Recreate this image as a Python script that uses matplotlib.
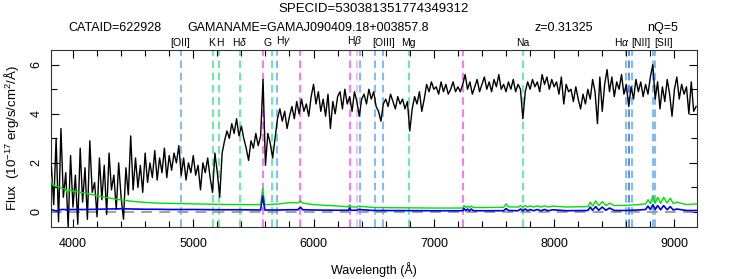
import numpy as np
import matplotlib
matplotlib.use("Agg")
import matplotlib.pyplot as plt
from matplotlib.ticker import MultipleLocator

plt.rcParams['font.family'] = ['Liberation Sans', 'DejaVu Sans']
plt.rcParams['mathtext.fontset'] = 'custom'
plt.rcParams['mathtext.rm'] = 'Liberation Sans'
plt.rcParams['mathtext.it'] = 'Liberation Sans:italic'

wave = 3820 + 20 * np.arange(269)
flux = [
    1.9, 0.3, 3.0, -0.4, 3.4, 0.6, 1.6, -0.6, 2.3, 0.2,   # 3820
    1.5, -0.5, 2.6, 0.4, 1.8, -0.3, 2.9, 0.8, 1.2, -0.2,  # 4020
    2.2, 0.5, 1.9, -0.1, 2.4, 0.9, 1.5, 0.1, 2.0, 0.6,    # 4220
    -0.3, 1.8, 0.7, 3.1, 0.9, 2.2, 1.0, 1.9, 0.8, 2.4,    # 4420
    1.2, 2.0, 1.4, 2.5, 1.3, 2.2, 1.6, 2.6, 1.4, 2.3,     # 4620
    1.7, 2.4, 2.0, 2.7, 1.5, 2.2, 1.3, 2.0, 1.6, 2.3,     # 4820
    1.5, 1.9, 0.9, 2.0, 1.6, 2.2, 1.4, 0.8, 2.4, 1.6,     # 5020
    0.6, 2.4, 2.9, 3.3, 3.0, 3.6, 3.2, 3.8, 3.1, 3.5,     # 5220
    3.0, 2.6, 2.1, 2.9, 2.6, 3.2, 2.7, 3.1, 5.4, 1.9,     # 5420
    3.2, 2.8, 2.2, 3.0, 3.8, 4.2, 3.7, 4.1, 3.4, 3.9,     # 5620
    4.3, 3.8, 4.5, 4.0, 4.6, 4.1, 4.4, 3.9, 4.7, 5.2,     # 5820
    4.4, 4.9, 4.1, 4.6, 3.9, 4.8, 3.4, 4.5, 4.0, 4.7,     # 6020
    4.9, 4.2, 5.0, 4.4, 4.7, 4.1, 4.9, 4.5, 3.9, 4.6,     # 6220
    4.8, 4.4, 5.0, 4.6, 4.9, 4.3, 4.1, 3.7, 4.4, 4.6,     # 6420
    4.3, 4.8, 4.5, 4.2, 4.7, 4.4, 4.6, 4.2, 4.5, 3.3,     # 6620
    4.2, 4.7, 4.4, 4.9, 4.1, 4.6, 5.2, 4.9, 5.3, 5.0,     # 6820
    5.1, 4.8, 5.3, 4.9, 5.2, 4.8, 5.0, 5.3, 4.9, 5.1,     # 7020
    4.9, 5.2, 5.6, 5.0, 5.3, 4.8, 5.1, 5.4, 4.9, 5.2,     # 7220
    5.5, 5.0, 5.3, 4.9, 5.4, 5.1, 5.6, 5.0, 5.2, 4.9,     # 7420
    5.3, 5.0, 5.4, 4.9, 5.2, 5.0, 3.8, 4.9, 5.3, 5.0,     # 7620
    5.4, 5.1, 5.3, 4.9, 5.6, 5.2, 5.5, 5.0, 5.4, 5.1,     # 7820
    5.3, 4.8, 5.5, 4.4, 5.2, 4.9, 5.0, 4.5, 5.1, 4.6,     # 8020
    4.2, 4.8, 4.4, 5.0, 4.6, 5.4, 4.9, 3.6, 5.5, 4.1,     # 8220
    5.2, 5.8, 4.9, 5.5, 4.7, 5.3, 5.0, 5.6, 4.8, 5.2,     # 8420
    4.3, 5.1, 4.6, 5.4, 4.9, 5.3, 4.7, 5.2, 4.8, 5.5,     # 8620
    6.0, 4.6, 5.3, 4.2, 5.1, 4.5, 5.4, 4.8, 3.9, 5.0,     # 8820
    5.5, 4.6, 5.2, 4.8, 5.1, 4.0, 5.3, 4.1, 4.3,          # 9020
]

# error (green) and sky (blue) curves
aux_wave = [3815, 3830, 3860, 3900, 3940, 3955, 3970, 4000, 4100, 4200,
            4300, 4400, 4500, 4600, 4700, 4800, 4900, 5000, 5200, 5400,
            5560, 5577, 5595, 5700, 5800, 5870, 5890, 5910, 6000, 6200,
            6290, 6300, 6310, 6360, 6370, 6500, 7000, 7240, 7250, 7265,
            7280, 7295, 7310, 7330, 7400, 7580, 7600, 7620, 7700, 7720,
            7740, 7760, 7780, 7800, 7830, 7860, 7890, 7920, 7950, 7990,
            8100, 8280, 8300, 8320, 8345, 8370, 8400, 8430, 8460, 8500,
            8600, 8700, 8760, 8780, 8800, 8821, 8840, 8860, 8885, 8910,
            8940, 8965, 8990, 9020, 9100, 9185]
err = [1.43, 1.1, 1.05, 0.98, 0.92, 0.75, 0.9, 0.85, 0.77, 0.66,
       0.57, 0.49, 0.43, 0.39, 0.36, 0.35, 0.34, 0.33, 0.31, 0.3,
       0.3, 0.95, 0.3, 0.32, 0.38, 0.37, 0.45, 0.36, 0.3, 0.24,
       0.21, 0.3, 0.21, 0.2, 0.24, 0.18, 0.16, 0.16, 0.26, 0.18,
       0.24, 0.18, 0.24, 0.18, 0.18, 0.19, 0.33, 0.21, 0.2, 0.26,
       0.2, 0.26, 0.2, 0.25, 0.2, 0.25, 0.2, 0.25, 0.2, 0.24,
       0.2, 0.22, 0.4, 0.25, 0.45, 0.26, 0.42, 0.26, 0.36, 0.26,
       0.27, 0.3, 0.33, 0.5, 0.34, 0.66, 0.35, 0.6, 0.35, 0.6,
       0.36, 0.56, 0.34, 0.4, 0.3, 0.33]
sky = [0.1, 0.08, 0.04, 0.1, 0.1, 0.05, 0.1, 0.1, 0.1, 0.11,
       0.12, 0.13, 0.12, 0.11, 0.11, 0.1, 0.1, 0.1, 0.09, 0.09,
       0.08, 0.65, 0.08, 0.08, 0.09, 0.09, 0.2, 0.09, 0.08, 0.07,
       0.07, 0.17, 0.07, 0.07, 0.1, 0.06, 0.05, 0.05, 0.14, 0.05,
       0.12, 0.04, 0.12, 0.05, 0.05, 0.05, 0.14, 0.06, 0.05, 0.12,
       0.05, 0.12, 0.05, 0.1, 0.05, 0.1, 0.05, 0.1, 0.05, 0.09,
       0.05, 0.06, 0.2, 0.07, 0.22, 0.07, 0.2, 0.07, 0.16, 0.06,
       0.06, 0.08, 0.1, 0.24, 0.1, 0.3, 0.1, 0.26, 0.09, 0.26,
       0.09, 0.22, 0.08, 0.12, 0.06, 0.06]

# line markers (observed wavelengths, z=0.31325)
em_waves = [4895, 5700, 6384, 6512, 6575, 8599, 8645, 8820, 8839]
ha_wave = 8619
abs_waves = [5166, 5212, 5387, 5653, 6796, 7739]
sky_waves = [5577, 5890, 6300, 7246]
sky_faint = [6364]

line_labels = ['[OII]', 'K', 'H', 'H$\\delta$', 'G', 'H$\\gamma$', 'H$\\beta$',
               '[OIII]', 'Mg', 'Na', 'H$\\alpha$', '[NII]', '[SII]']
label_pos = [4889, 5150, 5225, 5388, 5621, 5754, 6345,
             6585, 6785, 7741, 8564, 8721, 8913]

fig = plt.figure(figsize=(7.48, 2.79), dpi=100)
ax = fig.add_axes([0.0678, 0.1875, 0.8636, 0.6333])

dash = (0, (5, 3))
for w in em_waves:
    ax.axvline(w, color='#5aaaf5', lw=1.1, ls=dash, zorder=1)
ax.axvline(ha_wave, color='#1a70ff', lw=1.1, ls=dash, zorder=1)
for w in abs_waves:
    ax.axvline(w, color='#3fe58c', lw=1.1, ls=dash, zorder=1)
for w in sky_waves:
    ax.axvline(w, color='#ff4dff', lw=1.1, ls=dash, zorder=1)
for w in sky_faint:
    ax.axvline(w, color='#ffa0f0', lw=1.1, ls=dash, zorder=1)

ax.axhline(0, color='#999999', lw=1.3, ls=(0, (6, 4)), zorder=2)
ax.plot(wave, flux, color='black', lw=1.0, zorder=3)
ax.plot(aux_wave, err, color='#00e000', lw=1.0, zorder=4)
ax.plot(aux_wave, sky, color='#0000ee', lw=1.2, zorder=5)

for lab, pos in zip(line_labels, label_pos):
    ax.text(pos, 1.01, lab, transform=ax.get_xaxis_transform(), ha='center',
            va='bottom', fontsize=7.5)

ax.set_xlim(3815, 9185)
ax.set_ylim(-0.6, 6.6)
ax.xaxis.set_major_locator(MultipleLocator(1000))
ax.xaxis.set_minor_locator(MultipleLocator(200))
ax.yaxis.set_major_locator(MultipleLocator(2))
ax.yaxis.set_minor_locator(MultipleLocator(1))
ax.tick_params(which='both', direction='in', top=True, right=True, labelsize=9)
ax.tick_params(which='major', length=6, width=0.8)
ax.tick_params(which='minor', length=4, width=0.8)
ax.tick_params(axis='x', pad=8)
ax.tick_params(axis='y', pad=6, labelrotation=90)
plt.setp(ax.get_yticklabels(), va='center')
for s in ax.spines.values():
    s.set_linewidth(0.8)
    s.set_color('#333333')

ax.set_xlabel('Wavelength (Å)', fontsize=9, labelpad=9)
ax.set_ylabel('Flux  (10$^{-17}$ erg/s/cm$^2$/Å)', fontsize=9.5, labelpad=7)

fig.text(0.5, 0.968, 'SPECID=530381351774349312', ha='center', va='center', fontsize=9.5)
fig.text(0.091, 0.9, 'CATAID=622928', ha='left', va='center', fontsize=9)
fig.text(0.251, 0.9, 'GAMANAME=GAMAJ090409.18+003857.8', ha='left', va='center', fontsize=9)
fig.text(0.715, 0.9, 'z=0.31325', ha='left', va='center', fontsize=9)
fig.text(0.865, 0.9, 'nQ=5', ha='left', va='center', fontsize=9)

fig.savefig('out.png', dpi=100)
